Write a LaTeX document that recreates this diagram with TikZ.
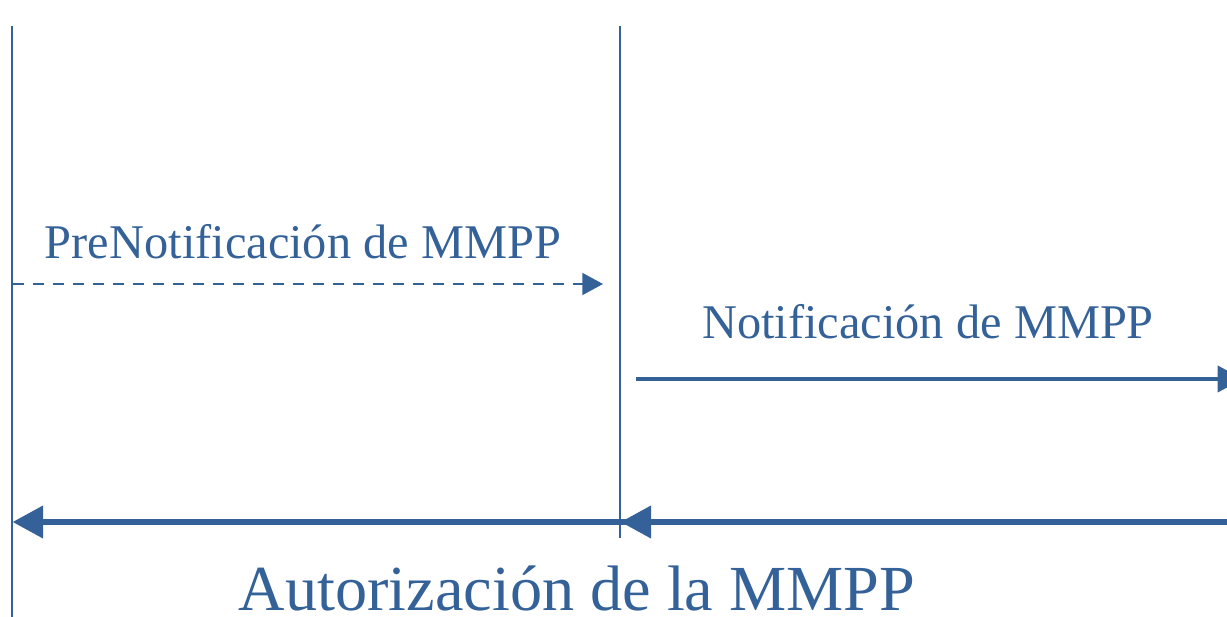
\documentclass[tikz,border=0pt]{standalone}
\usepackage{fontspec}
\setmainfont{Liberation Serif}
\usepackage{xcolor}
\usetikzlibrary{arrows.meta}

\definecolor{mmppblue}{RGB}{52,98,152}

\tikzset{
    lifeline/.style={mmppblue, line width=1.5},
    prenote/.style={mmppblue, line width=1.3, dash pattern=on 8.5 off 6.5,
        -{Triangle[length=15.5, width=16.5]}},
    notemsg/.style={mmppblue, line width=2.8, -{Triangle[length=19, width=19.5]}},
    authmsg/.style={mmppblue, line width=4.8, -{Triangle[length=23, width=23.5]}},
    msglabel/.style={text=mmppblue, anchor=base, inner sep=0,
        font=\fontsize{36.3}{43}\selectfont},
    biglabel/.style={text=mmppblue, anchor=base, inner sep=0,
        font=\fontsize{48.2}{57}\selectfont}
}

\begin{document}
\begin{tikzpicture}[x=0.75pt, y=-0.75pt]
    \useasboundingbox (0,0) rectangle (1227,617);
    % lifelines
    \coordinate (ltop) at (11.5,26);
    \coordinate (lbot) at (11.5,625);
    \coordinate (mtop) at (620,26);
    \coordinate (mbot) at (620,538);
    \draw[lifeline] (ltop) -- (lbot);
    \draw[lifeline] (mtop) -- (mbot);

    % messages
    \coordinate (prestart) at (12.5,284);
    \coordinate (preend) at (603,284);
    \coordinate (notstart) at (636,379);
    \coordinate (notend) at (1243,379);
    \coordinate (authright) at (1240,522);
    \coordinate (authleft) at (12.5,522);
    \coordinate (authmid) at (620.5,522);
    \draw[prenote] (prestart) -- (preend);
    \draw[notemsg] (notstart) -- (notend);
    \draw[authmsg] (authright) -- (authleft);
    \draw[authmsg] (authright) -- (authmid);

    % labels
    \node[msglabel] (prelabel) at (303,258) {PreNotificación de MMPP};
    \node[msglabel] (notlabel) at (928,338) {Notificación de MMPP};
    \node[biglabel] (authlabel) at (577,610) {Autorización de la MMPP};
\end{tikzpicture}
\end{document}
